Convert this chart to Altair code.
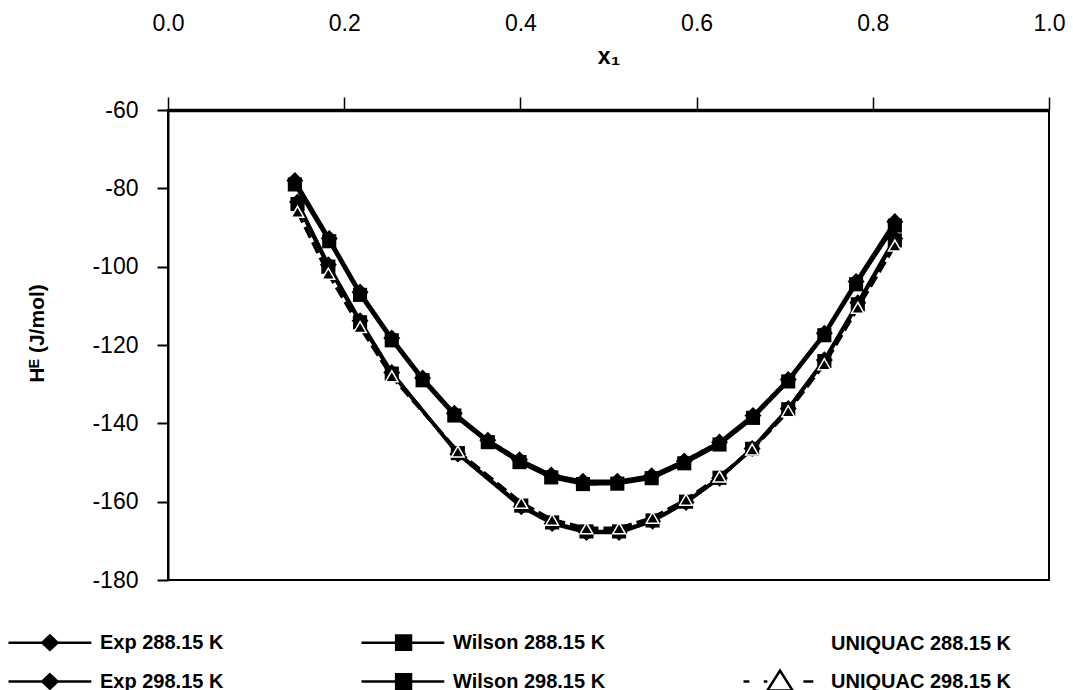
import altair as alt
import pandas as pd

# ---- data ----
x_288 = [0.144, 0.183, 0.218, 0.254, 0.289, 0.325, 0.363, 0.399, 0.435, 0.471,
         0.510, 0.549, 0.586, 0.626, 0.664, 0.704, 0.745, 0.781, 0.825]
exp_288 = [-78.0, -92.8, -106.5, -118.2, -128.4, -137.4, -144.3, -149.3, -153.2, -154.8,
           -154.8, -153.4, -149.6, -144.8, -138.0, -128.8, -117.0, -103.8, -88.5]
wilson_288 = [-79.0, -93.5, -107.2, -118.8, -129.0, -138.0, -144.8, -149.9, -153.8, -155.5,
              -155.4, -154.0, -150.2, -145.4, -138.6, -129.3, -117.5, -104.5, -89.5]

x_298 = [0.147, 0.182, 0.218, 0.254, 0.329, 0.401, 0.436, 0.475, 0.512, 0.550,
         0.588, 0.626, 0.663, 0.704, 0.745, 0.783, 0.825]
exp_298 = [-83.5, -99.5, -113.8, -127.0, -147.8, -161.3, -165.6, -167.9, -167.9, -165.0,
           -160.2, -154.0, -146.4, -136.2, -123.8, -109.2, -92.8]
wilson_298 = [-84.0, -100.0, -114.2, -127.3, -147.6, -161.0, -165.3, -167.6, -167.6, -164.8,
              -160.0, -153.9, -146.5, -136.4, -124.1, -109.6, -93.3]
uniquac_298 = [-86.0, -101.8, -115.4, -128.0, -147.2, -160.3, -164.6, -166.8, -166.8, -164.1,
               -159.5, -153.6, -146.7, -136.9, -124.9, -110.5, -94.6]

# legend order (column by column, as in the reference)
series_names = ["Exp 288.15 K", "Exp 298.15 K",
                "Wilson 288.15 K", "Wilson 298.15 K",
                "UNIQUAC 288.15 K", "UNIQUAC 298.15 K"]

x_ticks = [0.0, 0.2, 0.4, 0.6, 0.8, 1.0]
y_ticks = [-180, -160, -140, -120, -100, -80, -60]

# ---- tables built from the arrays ----
rows = []
for name, xs, ys in [("Exp 288.15 K", x_288, exp_288),
                     ("Wilson 288.15 K", x_288, wilson_288),
                     ("Exp 298.15 K", x_298, exp_298),
                     ("Wilson 298.15 K", x_298, wilson_298),
                     ("UNIQUAC 298.15 K", x_298, uniquac_298)]:
    for a, b in zip(xs, ys):
        rows.append({"series": name, "x1": a, "HE": b})
df = pd.DataFrame(rows)
legend_df = pd.DataFrame({"series": series_names})

FONT = "Liberation Sans"

x_enc = alt.X("x1:Q",
              scale=alt.Scale(domain=[0, 1], nice=False, zero=False),
              axis=alt.Axis(orient="top", values=x_ticks, format=".1f",
                            title="x₁", titleFontWeight="bold", titleFontSize=23,
                            titleFont=FONT, titleColor="black",
                            titleY=-47, titleBaseline="alphabetic",
                            labelFont=FONT, labelFontSize=23, labelColor="black",
                            labelPadding=62, labelFlush=False,
                            tickSize=13, tickWidth=1.5, tickColor="black",
                            domainWidth=3.5, domainColor="black", grid=False))
y_enc = alt.Y("HE:Q",
              scale=alt.Scale(domain=[-180, -60], nice=False, zero=False),
              axis=alt.Axis(values=y_ticks, labelExpr="toString(datum.value)",
                            title="Hᴱ (J/mol)", titleFontWeight="bold", titleFontSize=21,
                            titleFont=FONT, titleColor="black",
                            titleX=-125, titleY=223, titleBaseline="alphabetic",
                            labelFont=FONT, labelFontSize=23, labelColor="black",
                            labelPadding=19,
                            tickSize=11, tickWidth=2, tickColor="black",
                            domainWidth=2, domainColor="black", grid=False))

line_names = ["Exp 288.15 K", "Wilson 288.15 K", "Exp 298.15 K",
              "Wilson 298.15 K", "UNIQUAC 298.15 K"]
base = alt.Chart(df)

lines = base.mark_line(strokeWidth=3.5, color="black").encode(
    x=x_enc, y=y_enc, detail="series:N",
    strokeDash=alt.StrokeDash("series:N",
                              scale=alt.Scale(domain=line_names,
                                              range=[[1, 0], [1, 0], [1, 0], [1, 0], [12, 5]]),
                              legend=None),
)

diamonds = base.transform_filter(
    alt.FieldOneOfPredicate(field="series", oneOf=["Exp 288.15 K", "Exp 298.15 K"])
).mark_point(shape="diamond", filled=True, color="black", size=290, opacity=1).encode(
    x="x1:Q", y="HE:Q")

squares = base.transform_filter(
    alt.FieldOneOfPredicate(field="series", oneOf=["Wilson 288.15 K", "Wilson 298.15 K"])
).mark_point(shape="square", filled=True, color="black", size=200, opacity=1).encode(
    x="x1:Q", y="HE:Q")

triangles = base.transform_filter(
    alt.FieldEqualPredicate(field="series", equal="UNIQUAC 298.15 K")
).mark_point(shape="triangle-up", filled=True, fill="black", stroke="white",
             strokeWidth=1.5, size=160, opacity=1).encode(x="x1:Q", y="HE:Q")

# legend symbols: line + marker as custom paths (unit = 9 px)
p_diamond = "M-1,0H8.2M3.6,-0.8L4.45,0L3.6,0.8L2.75,0Z"
p_square = "M-1,0H8.2M2.85,-0.8H4.5V0.8H2.85Z"
p_empty = "M0,0L0,0"
p_tri = "M-0.55,0H0.1M1.7,0H2.1M2.1,1.0L3.5,-1.2L4.9,1.0ZM6.1,0H7.2"
paths = [p_diamond, p_diamond, p_square, p_square, p_empty, p_tri]
fills = ["black", "black", "black", "black", "white", "white"]
strokes = ["black"] * 6

leg = alt.Legend(title=None, orient="none", legendX=-161, legendY=522, columns=3,
                 columnPadding=132, rowPadding=10, labelFont=FONT, labelFontSize=20,
                 labelFontWeight="bold", labelColor="black", labelOffset=72,
                 labelLimit=400, symbolSize=324, symbolStrokeWidth=2.5,
                 symbolStrokeColor="black", symbolOpacity=1)

legend_layer = alt.Chart(legend_df).transform_filter("false").mark_point(
    size=324, stroke="black", strokeWidth=2.5, opacity=1).encode(
    shape=alt.Shape("series:N", scale=alt.Scale(domain=series_names, range=paths), legend=leg),
    fill=alt.Fill("series:N", scale=alt.Scale(domain=series_names, range=fills), legend=leg),
    stroke=alt.Stroke("series:N", scale=alt.Scale(domain=series_names, range=strokes), legend=leg),
)

chart = alt.layer(lines, diamonds, squares, triangles, legend_layer).properties(
    width=881, height=470,
    autosize=alt.AutoSizeParams(type="none"),
    padding={"left": 168, "top": 110, "right": 24, "bottom": 110},
    background="white",
).configure_view(stroke="black", strokeWidth=2)

chart.save("out.html", embed_options={"renderer": "svg", "actions": False})
